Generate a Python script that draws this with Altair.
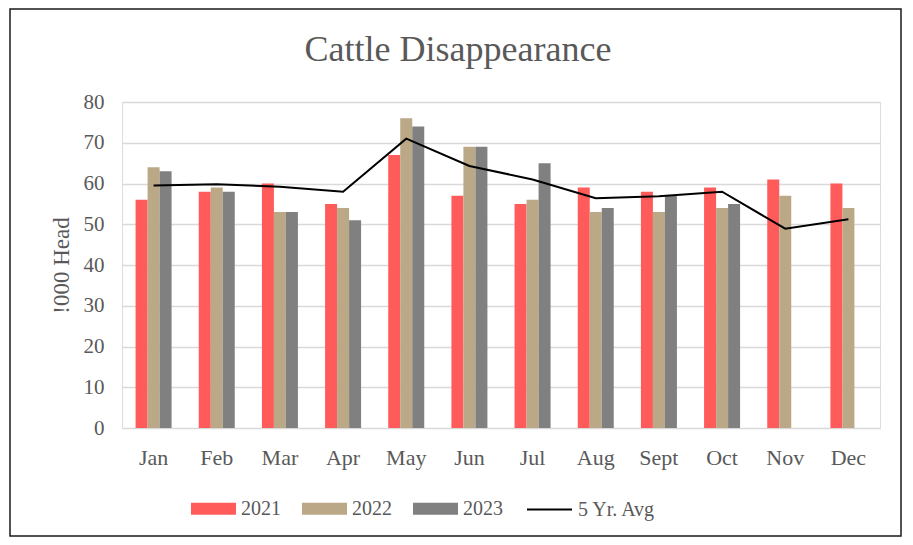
import altair as alt
import pandas as pd

months = ["Jan", "Feb", "Mar", "Apr", "May", "Jun", "Jul", "Aug", "Sept", "Oct", "Nov", "Dec"]
years = ["2021", "2022", "2023"]
v2021 = [56, 58, 60, 55, 67, 57, 55, 59, 58, 59, 61, 60]
v2022 = [64, 59, 53, 54, 76, 69, 56, 53, 53, 54, 57, 54]
v2023 = [63, 58, 53, 51, 74, 69, 65, 54, 57, 55, None, None]
avg5 = [59.5, 59.8, 59.2, 58.0, 71.0, 64.3, 61.0, 56.4, 56.9, 58.0, 48.9, 51.2]
bar_colors = ["#FF5B5B", "#BAA887", "#808080"]

rows = []
for yr, vals in zip(years, [v2021, v2022, v2023]):
    for m, v in zip(months, vals):
        if v is not None:
            rows.append({"month": m, "series": yr, "value": v})
bars_df = pd.DataFrame(rows)
avg_df = pd.DataFrame({"month": months, "value": avg5, "lbl": ["5 Yr. Avg"] * len(months)})

FONT = "Liberation Serif"
TXT = "#595959"

x_enc = alt.X("month:N", sort=months,
              scale=alt.Scale(paddingInner=0.43, paddingOuter=0.215),
              axis=alt.Axis(title=None, labelAngle=0, ticks=False, domain=False,
                            labelPadding=19, labelFontSize=22, labelFont=FONT,
                            labelColor=TXT, grid=False))
y_enc = alt.Y("value:Q", scale=alt.Scale(domain=[0, 80], nice=False),
              axis=alt.Axis(title="!000 Head", values=list(range(0, 81, 10)),
                            ticks=False, domain=False, labelPadding=18,
                            labelFontSize=21, labelFont=FONT, labelColor=TXT,
                            titleFont=FONT, titleFontSize=23, titleColor=TXT,
                            titleFontWeight="normal", titlePadding=10,
                            gridColor="#D9D9D9", gridWidth=1.5))

bars = alt.Chart(bars_df).mark_bar().encode(
    x=x_enc,
    y=y_enc,
    xOffset=alt.XOffset("series:N", sort=years, scale=alt.Scale(domain=years, paddingInner=0, paddingOuter=0)),
    color=alt.Color("series:N", scale=alt.Scale(domain=years, range=bar_colors),
                    legend=alt.Legend(title=None, orient="none", legendX=69, legendY=384,
                                      direction="horizontal", columns=3,
                                      symbolType="M-1,-0.27H1V0.27H-1Z", symbolSize=2025,
                                      symbolStrokeWidth=0, labelOffset=5, columnPadding=21,
                                      labelFont=FONT, labelFontSize=20, labelColor=TXT)),
)

line = alt.Chart(avg_df).mark_line(strokeWidth=2).encode(
    x=alt.X("month:N", sort=months),
    y=alt.Y("value:Q"),
    stroke=alt.Stroke("lbl:N", scale=alt.Scale(domain=["5 Yr. Avg"], range=["#000000"]),
                      legend=alt.Legend(title=None, orient="none", legendX=404, legendY=384,
                                        direction="horizontal", symbolType="stroke",
                                        symbolSize=2025, symbolStrokeWidth=2,
                                        symbolStrokeColor="#000000", labelOffset=5,
                                        labelFont=FONT, labelFontSize=20, labelColor=TXT)),
)

frame = alt.Chart(alt.Data(values=[{"a": 1}])).mark_rect(
    filled=False, stroke="#1A1A1A", strokeWidth=1.5
).encode(x=alt.value(-112), x2=alt.value(779), y=alt.value(-93), y2=alt.value(434))

chart = alt.layer(bars, line, frame).properties(
    width=758, height=326,
    title=alt.TitleParams("Cattle Disappearance", font=FONT, fontSize=36,
                          fontWeight="normal", color=TXT, anchor="middle",
                          frame="group", dx=-43, offset=-61),
    autosize=alt.AutoSizeParams(type="none"),
    padding={"left": 114, "top": 94, "right": 23, "bottom": 109},
).configure_view(stroke=None).configure(background="white")

chart.save("out.html", embed_options={"renderer": "svg", "actions": False})
